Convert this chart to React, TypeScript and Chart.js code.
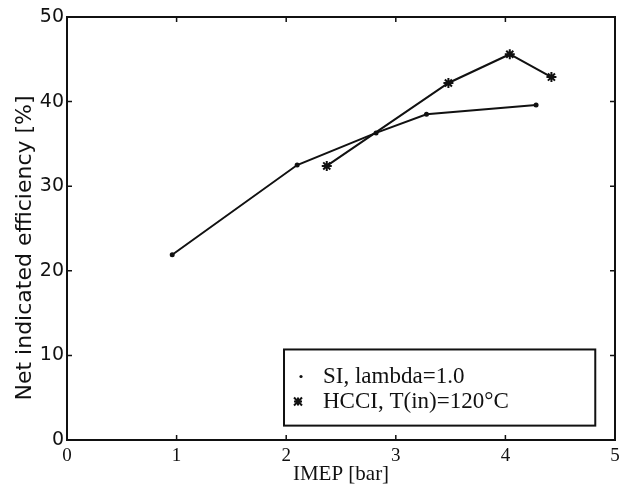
import React, { useEffect, useRef } from "react";
import { Chart, registerables } from "chart.js";

Chart.register(...registerables);

const siX = [0.96, 2.1, 2.82, 3.28, 4.28];
const siY = [21.9, 32.5, 36.3, 38.5, 39.6];
const hcciX = [2.37, 3.48, 4.04, 4.42];
const hcciY = [32.4, 42.2, 45.6, 42.9];
const xTicks = [0, 1, 2, 3, 4, 5];
const yTicks = [0, 10, 20, 30, 40, 50];
const siLabel = "SI, lambda=1.0";
const hcciLabel = "HCCI, T(in)=120°C";
const xTitle = "IMEP [bar]";
const yTitle = "Net indicated efficiency [%]";

const INK = "#111";

const framePlugin = {
  id: "frame",
  afterDatasetsDraw(chart: any) {
    const { ctx, chartArea: a, scales } = chart;
    const xs = scales.x;
    const ys = scales.y;
    ctx.save();
    ctx.strokeStyle = INK;
    ctx.lineWidth = 2;
    ctx.strokeRect(a.left, a.top, a.right - a.left, a.bottom - a.top);
    ctx.lineWidth = 1.5;
    const t = 5;
    xTicks.slice(1, -1).forEach((v) => {
      const px = xs.getPixelForValue(v);
      ctx.beginPath();
      ctx.moveTo(px, a.bottom);
      ctx.lineTo(px, a.bottom - t);
      ctx.moveTo(px, a.top);
      ctx.lineTo(px, a.top + t);
      ctx.stroke();
    });
    yTicks.slice(1, -1).forEach((v) => {
      const py = ys.getPixelForValue(v);
      ctx.beginPath();
      ctx.moveTo(a.left, py);
      ctx.lineTo(a.left + t, py);
      ctx.moveTo(a.right, py);
      ctx.lineTo(a.right - t, py);
      ctx.stroke();
    });
    // y axis title
    ctx.save();
    ctx.translate(25, ys.getPixelForValue(22.7));
    ctx.rotate(-Math.PI / 2);
    ctx.fillStyle = INK;
    ctx.font = "22px 'DejaVu Sans'";
    ctx.textAlign = "center";
    ctx.textBaseline = "middle";
    ctx.fillText(yTitle, 0, 0);
    ctx.restore();
    // legend box
    const bx = xs.getPixelForValue(1.98);
    const by = ys.getPixelForValue(10.7);
    const bw = xs.getPixelForValue(4.82) - bx;
    const bh = ys.getPixelForValue(1.7) - by;
    ctx.fillStyle = "#fff";
    ctx.fillRect(bx, by, bw, bh);
    ctx.lineWidth = 2;
    ctx.strokeRect(bx, by, bw, bh);
    ctx.fillStyle = INK;
    ctx.font = "23px 'Liberation Serif'";
    ctx.textBaseline = "middle";
    const ds = chart.data.datasets;
    const r1 = by + 27;
    const r2 = by + 52;
    ctx.beginPath();
    ctx.arc(bx + 17, r1, 1.6, 0, Math.PI * 2);
    ctx.fill();
    const sx = bx + 14, sy = r2, s = 4;
    ctx.lineWidth = 2;
    ctx.beginPath();
    ctx.moveTo(sx - s, sy - s); ctx.lineTo(sx + s, sy + s);
    ctx.moveTo(sx + s, sy - s); ctx.lineTo(sx - s, sy + s);
    ctx.moveTo(sx - s, sy); ctx.lineTo(sx + s, sy);
    ctx.moveTo(sx, sy - s); ctx.lineTo(sx, sy + s);
    ctx.stroke();
    ctx.fillText(ds[0].label, bx + 39, r1);
    ctx.fillText(ds[1].label, bx + 39, r2);
    ctx.restore();
  },
};

export default function App() {
  const ref = useRef<HTMLCanvasElement | null>(null);
  useEffect(() => {
    if (!ref.current) return;
    const chart = new Chart(ref.current, {
      type: "scatter",
      data: {
        datasets: [
          {
            label: siLabel,
            data: siX.map((x, i) => ({ x, y: siY[i] })),
            showLine: true,
            borderColor: INK,
            backgroundColor: INK,
            borderWidth: 2,
            pointRadius: 1.5,
            pointStyle: "circle",
          },
          {
            label: hcciLabel,
            data: hcciX.map((x, i) => ({ x, y: hcciY[i] })),
            showLine: true,
            borderColor: INK,
            backgroundColor: INK,
            borderWidth: 2,
            pointRadius: 5,
            pointBorderWidth: 2,
            pointStyle: "star",
          },
        ],
      },
      options: {
        animation: false,
        responsive: false,
        maintainAspectRatio: false,
        layout: { padding: { left: 0, top: 17, right: 11, bottom: 0 } },
        plugins: { legend: { display: false }, tooltip: { enabled: false } },
        scales: {
          x: {
            type: "linear",
            min: 0,
            max: 5,
            afterBuildTicks: (s: any) => {
              s.ticks = xTicks.map((v) => ({ value: v }));
            },
            afterFit: (s: any) => {
              s.height = 49;
            },
            grid: { display: false, drawTicks: false },
            border: { display: false },
            ticks: {
              padding: 5,
              color: INK,
              font: { family: "'Liberation Serif'", size: 19 },
            },
            title: {
              display: true,
              text: xTitle,
              color: INK,
              font: { family: "'Liberation Serif'", size: 21 },
              padding: { top: 0, bottom: 2 },
            },
          },
          y: {
            type: "linear",
            min: 0,
            max: 50,
            afterBuildTicks: (s: any) => {
              s.ticks = yTicks.map((v) => ({ value: v }));
            },
            afterFit: (s: any) => {
              s.width = 67;
            },
            grid: { display: false, drawTicks: false },
            border: { display: false },
            ticks: {
              padding: 3,
              color: INK,
              font: { family: "'DejaVu Sans'", size: 19 },
            },
          },
        },
      },
      plugins: [framePlugin],
    });
    return () => chart.destroy();
  }, []);
  return (
    <div style={{ position: "absolute", left: 0, top: 0, width: 626, height: 489, background: "#fff" }}>
      <canvas ref={ref} width={626} height={489} style={{ display: "block" }} />
    </div>
  );
}
